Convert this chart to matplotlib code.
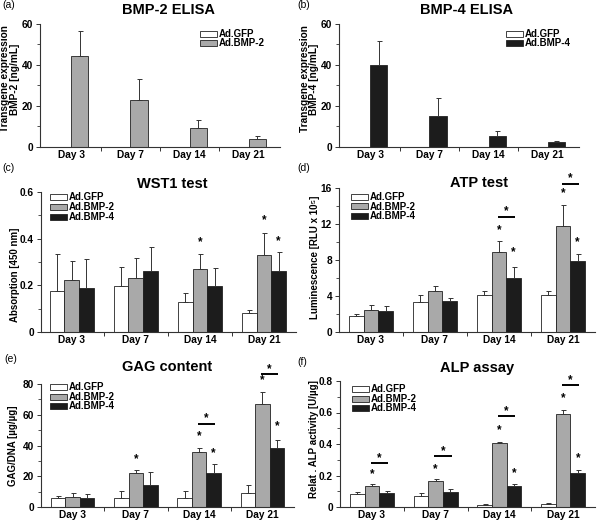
import matplotlib
matplotlib.use("Agg")
import matplotlib.pyplot as plt
from matplotlib.patches import Rectangle
from matplotlib.ticker import MultipleLocator
import numpy as np

plt.rcParams['font.family'] = ['Liberation Sans', 'DejaVu Sans']
plt.rcParams['font.weight'] = 'bold'

days = ['Day 3', 'Day 7', 'Day 14', 'Day 21']
series_names = ['Ad.GFP', 'Ad.BMP-2', 'Ad.BMP-4']

# (a) BMP-2 ELISA
elisa2_gfp = [0.2, 0.2, 0.2, 0.2]
elisa2_bmp2 = [44.5, 23.0, 9.5, 4.1]
elisa2_bmp2_err = [12.2, 10.0, 3.9, 1.3]
# (b) BMP-4 ELISA
elisa4_gfp = [0.2, 0.2, 0.2, 0.2]
elisa4_bmp4 = [39.8, 15.0, 5.5, 2.3]
elisa4_bmp4_err = [11.7, 8.9, 2.1, 0.8]
# (c) WST1
wst_gfp = [0.174, 0.199, 0.128, 0.081]
wst_gfp_err = [0.159, 0.079, 0.039, 0.012]
wst_bmp2 = [0.224, 0.231, 0.269, 0.329]
wst_bmp2_err = [0.082, 0.088, 0.064, 0.097]
wst_bmp4 = [0.188, 0.263, 0.198, 0.260]
wst_bmp4_err = [0.124, 0.100, 0.078, 0.082]
wst_stars = [(2, 1, 0.387), (3, 1, 0.48), (3, 2, 0.39)]
# (d) ATP
atp_gfp = [1.74, 3.33, 4.07, 4.07]
atp_gfp_err = [0.30, 0.82, 0.52, 0.52]
atp_bmp2 = [2.48, 4.56, 8.89, 11.74]
atp_bmp2_err = [0.56, 0.59, 1.18, 2.41]
atp_bmp4 = [2.33, 3.41, 6.00, 7.93]
atp_bmp4_err = [0.56, 0.37, 1.20, 0.77]
atp_stars = [(2, 1, 11.3), (2, 2, 8.9), (3, 1, 15.4), (3, 2, 10.0)]
atp_brackets = [(2, 12.74), (3, 16.44)]
# (e) GAG
gag_gfp = [5.8, 5.8, 5.8, 8.9]
gag_gfp_err = [1.6, 4.8, 4.4, 5.4]
gag_bmp2 = [6.5, 21.8, 35.7, 66.8]
gag_bmp2_err = [2.6, 2.2, 2.6, 8.2]
gag_bmp4 = [5.6, 14.5, 22.3, 38.3]
gag_bmp4_err = [2.6, 8.2, 5.8, 5.6]
gag_stars = [(1, 1, 31.1), (2, 1, 45.8), (2, 2, 35.0), (3, 1, 82.6), (3, 2, 52.3)]
gag_brackets = [(2, 54.3), (3, 86.3)]
# (f) ALP
alp_gfp = [0.080, 0.070, 0.015, 0.019]
alp_gfp_err = [0.015, 0.021, 0.006, 0.004]
alp_bmp2 = [0.135, 0.163, 0.406, 0.593]
alp_bmp2_err = [0.013, 0.017, 0.007, 0.025]
alp_bmp4 = [0.089, 0.095, 0.131, 0.214]
alp_bmp4_err = [0.015, 0.021, 0.017, 0.021]
alp_stars = [(0, 1, 0.21), (1, 1, 0.239), (2, 1, 0.487), (2, 2, 0.216), (3, 1, 0.694), (3, 2, 0.311)]
alp_brackets = [(0, 0.281), (1, 0.322), (2, 0.576), (3, 0.772)]

COL = {'Ad.GFP': 'white', 'Ad.BMP-2': '#a9a9a9', 'Ad.BMP-4': '#1c1c1c'}
W, H = 600, 522
fig = plt.figure(figsize=(6, 5.22), dpi=100)

TICK_FS = 7.3
TITLE_FS = 10.5
LEG_FS = 7
STAR_FS = 8.5


def make_ax(l, r, t, b):
    return fig.add_axes([l / W, 1 - b / H, (r - l) / W, (b - t) / H])


def style(ax, ymax, major, xlim):
    ax.set_xlim(*xlim)
    ax.set_ylim(0, ymax)
    for s in ['top', 'right']:
        ax.spines[s].set_visible(False)
    for s in ['left', 'bottom']:
        ax.spines[s].set_linewidth(0.8)
        ax.spines[s].set_color('#333333')
    ax.yaxis.set_major_locator(MultipleLocator(major))
    ax.yaxis.set_minor_locator(MultipleLocator(major / 2))
    ax.tick_params(axis='y', which='major', length=3, width=0.7, labelsize=TICK_FS, pad=2,
                   colors='#333333', labelcolor='black')
    ax.tick_params(axis='y', which='minor', length=2, width=0.6, colors='#333333')
    ax.set_xticks([0.5, 1.5, 2.5], minor=True)
    ax.set_xticks(range(len(days)))
    ax.set_xticklabels(days, fontsize=TICK_FS, fontweight='bold')
    ax.tick_params(axis='x', which='major', length=0, pad=2)
    ax.tick_params(axis='x', which='minor', length=3, width=0.7, colors='#333333')
    ax.yaxis.set_major_formatter(matplotlib.ticker.FuncFormatter(
        lambda v, p: ('0' if v == 0 else (f'{v:g}'))))
    for lab in ax.get_yticklabels():
        lab.set_fontweight('bold')


def bars(ax, series, width, errs):
    n = len(series)
    x = np.arange(len(days))
    for i, (name, vals) in enumerate(series):
        off = (i - (n - 1) / 2) * width
        ax.bar(x + off, vals, width, color=COL[name], edgecolor='#222222', linewidth=0.6, zorder=2)
        e = errs[i]
        if e is not None:
            ax.errorbar(x + off, vals, yerr=[np.zeros(len(e)), e], fmt='none',
                        ecolor='#333333', elinewidth=0.7, capsize=1.8, capthick=0.7, zorder=3)


def stars(ax, lst, width, n=3):
    for d, s, y in lst:
        off = (s - (n - 1) / 2) * width
        ax.text(d + off, y, '*', ha='center', va='center', fontsize=STAR_FS, fontweight='bold', clip_on=False)


def brackets(ax, lst, width, ymax):
    for d, y in lst:
        x0, x1 = d, d + width
        ax.plot([x0 - 0.02, x1 + 0.02], [y, y], color='black', lw=1.4, clip_on=False, solid_capstyle='butt')
        ax.text((x0 + x1) / 2, y + ymax * 0.04, '*', ha='center', va='center', fontsize=STAR_FS,
                fontweight='bold', clip_on=False)


def legend(names, x0, y0, dy):
    for i, nm in enumerate(names):
        y = y0 + i * dy
        fig.patches.append(Rectangle((x0 / W, 1 - (y + 3) / H), 17 / W, 6 / H, transform=fig.transFigure,
                                     facecolor=COL[nm], edgecolor='#222222', linewidth=0.6))
        fig.text((x0 + 18.5) / W, 1 - y / H, nm, fontsize=LEG_FS, fontweight='bold', va='center', ha='left')


def ylabel(txt, x, y, fs):
    fig.text(x / W, 1 - y / H, txt, fontsize=fs, fontweight='bold', rotation=90,
             ha='center', va='center', linespacing=0.95, multialignment='center')


def title(txt, x, y):
    fig.text(x / W, 1 - y / H, txt, fontsize=TITLE_FS, fontweight='bold', ha='center', va='center')


def plabel(txt, x, y):
    fig.text(x / W, 1 - y / H, txt, fontsize=7.5, fontweight='normal', ha='left', va='center')


# (a)
ax = make_ax(40, 280, 24, 147)
bars(ax, [('Ad.GFP', elisa2_gfp), ('Ad.BMP-2', elisa2_bmp2)], 0.29, [None, elisa2_bmp2_err])
style(ax, 60, 20, (-0.53, 3.53))
ylabel('Transgene expression\nBMP-2 [ng/mL]', 10, 79, 7.3)
title('BMP-2 ELISA', 169, 10)
plabel('(a)', 2, 5)
legend(['Ad.GFP', 'Ad.BMP-2'], 200, 34, 9)

# (b)
ax = make_ax(339, 579, 24, 147)
bars(ax, [('Ad.GFP', elisa4_gfp), ('Ad.BMP-4', elisa4_bmp4)], 0.29, [None, elisa4_bmp4_err])
style(ax, 60, 20, (-0.53, 3.53))
ylabel('Transgene expression\nBMP-4 [ng/mL]', 309.5, 79, 7.3)
title('BMP-4 ELISA', 467, 10)
plabel('(b)', 297, 5)
legend(['Ad.GFP', 'Ad.BMP-4'], 506, 34, 9)

# (c)
ax = make_ax(41, 296, 192, 332)
bars(ax, [('Ad.GFP', wst_gfp), ('Ad.BMP-2', wst_bmp2), ('Ad.BMP-4', wst_bmp4)], 0.23,
     [wst_gfp_err, wst_bmp2_err, wst_bmp4_err])
style(ax, 0.6, 0.2, (-0.48, 3.5))
ylabel('Absorption [450 nm]', 15, 275, 7)
stars(ax, wst_stars, 0.23)
title('WST1 test', 172, 184)
plabel('(c)', 2, 168)
legend(series_names, 50, 197, 10)

# (d)
ax = make_ax(339, 595, 188, 332)
bars(ax, [('Ad.GFP', atp_gfp), ('Ad.BMP-2', atp_bmp2), ('Ad.BMP-4', atp_bmp4)], 0.23,
     [atp_gfp_err, atp_bmp2_err, atp_bmp4_err])
style(ax, 16, 4, (-0.5, 3.5))
ylabel('Luminescence [RLU x 10\u2075]', 315.5, 257, 7)
stars(ax, atp_stars, 0.23)
brackets(ax, atp_brackets, 0.23, 16)
title('ATP test', 479, 183)
plabel('(d)', 297, 168)
legend(series_names, 351, 197, 9.5)

# (e)
ax = make_ax(41, 294, 384, 507)
bars(ax, [('Ad.GFP', gag_gfp), ('Ad.BMP-2', gag_bmp2), ('Ad.BMP-4', gag_bmp4)], 0.23,
     [gag_gfp_err, gag_bmp2_err, gag_bmp4_err])
style(ax, 80, 20, (-0.5, 3.5))
ylabel('GAG/DNA [\u00b5g/\u00b5g]', 13, 446, 7)
stars(ax, gag_stars, 0.23)
brackets(ax, gag_brackets, 0.23, 80)
title('GAG content', 167, 367)
plabel('(e)', 4, 359)
legend(series_names, 50, 387, 9.5)

# (f)
ax = make_ax(340, 595, 381, 507)
bars(ax, [('Ad.GFP', alp_gfp), ('Ad.BMP-2', alp_bmp2), ('Ad.BMP-4', alp_bmp4)], 0.23,
     [alp_gfp_err, alp_bmp2_err, alp_bmp4_err])
style(ax, 0.8, 0.2, (-0.5, 3.5))
ylabel('Relat . ALP activity [U/\u00b5g]', 314, 439, 7)
stars(ax, alp_stars, 0.23)
brackets(ax, alp_brackets, 0.23, 0.8)
title('ALP assay', 477, 368)
plabel('(f)', 297, 362)
legend(series_names, 352, 389, 9.5)

fig.savefig('out.png', dpi=100, facecolor='white')
